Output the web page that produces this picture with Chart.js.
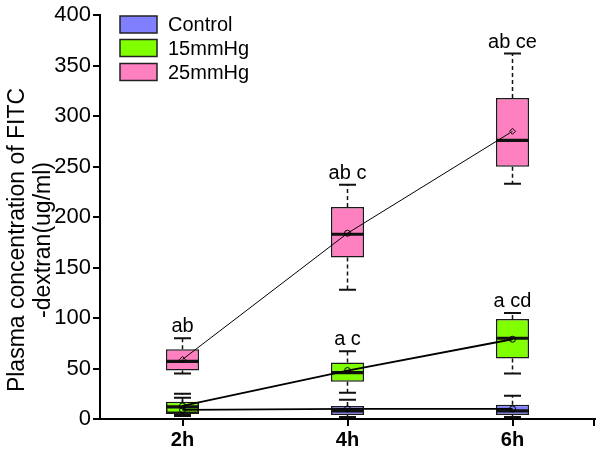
<!DOCTYPE html>
<html><head><meta charset="utf-8">
<script src="https://cdn.jsdelivr.net/npm/chart.js@4.4.0/dist/chart.umd.min.js"></script>
<style>html,body{margin:0;padding:0;background:#fff}#wrap{width:600px;height:451px}</style>
</head><body><div id="wrap"><canvas id="c" width="600" height="451"></canvas></div>
<script>
const categories = ['2h', '4h', '6h'];
const seriesNames = ['Control', '15mmHg', '25mmHg'];
const yTicks = [0, 50, 100, 150, 200, 250, 300, 350, 400];

const controlMin = [3, 2, 2];
const controlQ1 = [5, 4, 4];
const controlMedian = [8, 8, 8];
const controlQ3 = [15, 13, 14];
const controlMax = [21, 19, 23];
const controlMean = [9, 10, 10];

const mmHg15Min = [4, 26, 45];
const mmHg15Q1 = [6, 37, 60];
const mmHg15Median = [12, 46, 80];
const mmHg15Q3 = [17, 56, 99];
const mmHg15Max = [25, 67, 105];
const mmHg15Mean = [13, 48, 79];

const mmHg25Min = [45, 128, 233];
const mmHg25Q1 = [48, 160, 250];
const mmHg25Median = [57, 183, 276];
const mmHg25Q3 = [69, 210, 318];
const mmHg25Max = [80, 232, 362];
const mmHg25Mean = [59, 184, 285];

const controlSig = ['', '', ''];
const mmHg15Sig = ['', 'a c', 'a cd'];
const mmHg25Sig = ['ab', 'ab c', 'ab ce'];

const FONT = "'Liberation Sans', Arial, Helvetica, sans-serif";
const fills = ['#8080ff', '#80ff00', '#ff80c0'];

const stats = [
  {min: controlMin, q1: controlQ1, med: controlMedian, q3: controlQ3, max: controlMax, sig: controlSig},
  {min: mmHg15Min, q1: mmHg15Q1, med: mmHg15Median, q3: mmHg15Q3, max: mmHg15Max, sig: mmHg15Sig},
  {min: mmHg25Min, q1: mmHg25Q1, med: mmHg25Median, q3: mmHg25Q3, max: mmHg25Max, sig: mmHg25Sig}
];
const means = [controlMean, mmHg15Mean, mmHg25Mean];

function boxData(s) { return s.q1.map((q, i) => [q, s.q3[i]]); }

const datasets = [];
stats.forEach((s, k) => {
  datasets.push({
    type: 'bar', label: seriesNames[k], data: boxData(s), seriesIndex: k,
    backgroundColor: fills[k], borderColor: '#1a1a1a', borderWidth: 1.5,
    borderSkipped: false, grouped: false, barPercentage: 0.2, categoryPercentage: 1.0,
    order: 12 - k
  });
});
const lineWidths = [1.6, 1.8, 1];
const pStyles = [['circle','circle','circle'], ['circle','circle','circle'], ['rectRot','circle','rectRot']];
means.forEach((m, k) => {
  datasets.push({
    type: 'line', label: seriesNames[k] + ' mean', data: m,
    borderColor: '#000', borderWidth: lineWidths[k], fill: false, tension: 0,
    pointRadius: 3, pointStyle: pStyles[k], pointBackgroundColor: 'rgba(0,0,0,0)',
    pointBorderColor: '#000', pointBorderWidth: 1, order: 3 - k
  });
});

const boxPlugin = {
  id: 'boxParts',
  afterDatasetDraw(chart, args) {
    const ds = chart.data.datasets[args.index];
    if (ds.type !== 'bar') return;
    const s = stats[ds.seriesIndex];
    const ctx = chart.ctx, y = chart.scales.y;
    const meta = chart.getDatasetMeta(args.index);
    ctx.save();
    meta.data.forEach((el, i) => {
      const x = el.x, w = el.width;
      const yMax = y.getPixelForValue(s.max[i]), yQ3 = y.getPixelForValue(s.q3[i]);
      const yQ1 = y.getPixelForValue(s.q1[i]), yMin = y.getPixelForValue(s.min[i]);
      const yMed = y.getPixelForValue(s.med[i]);
      ctx.strokeStyle = '#111';
      ctx.lineWidth = 1.5;
      ctx.setLineDash([4, 3]);
      ctx.beginPath();
      ctx.moveTo(x, yQ3); ctx.lineTo(x, yMax);
      ctx.moveTo(x, yQ1); ctx.lineTo(x, yMin);
      ctx.stroke();
      ctx.setLineDash([]);
      ctx.lineWidth = 2;
      ctx.beginPath();
      ctx.moveTo(x - 8.5, yMax); ctx.lineTo(x + 8.5, yMax);
      ctx.moveTo(x - 8.5, yMin); ctx.lineTo(x + 8.5, yMin);
      ctx.stroke();
      ctx.lineWidth = 3.2;
      ctx.beginPath();
      ctx.moveTo(x - w / 2, yMed); ctx.lineTo(x + w / 2, yMed);
      ctx.stroke();
      if (s.sig[i]) {
        ctx.fillStyle = '#000';
        ctx.font = '20px ' + FONT;
        ctx.textAlign = 'center';
        ctx.textBaseline = 'alphabetic';
        ctx.fillText(s.sig[i], x, yMax - 6);
      }
    });
    ctx.restore();
  },
  afterDraw(chart) {
    const ctx = chart.ctx, a = chart.chartArea;
    ctx.save();
    ctx.strokeStyle = '#000'; ctx.lineWidth = 2;
    ctx.beginPath(); ctx.moveTo(a.right - 1, a.bottom); ctx.lineTo(a.right - 1, a.bottom + 7); ctx.stroke();
    ctx.font = '20px ' + FONT;
    ctx.textBaseline = 'middle'; ctx.textAlign = 'left';
    const rows = [24.5, 48, 72];
    seriesNames.forEach((n, k) => {
      ctx.fillStyle = fills[k];
      ctx.fillRect(120, rows[k] - 8.5, 37, 17);
      ctx.strokeStyle = '#222'; ctx.lineWidth = 1.5;
      ctx.strokeRect(120, rows[k] - 8.5, 37, 17);
      ctx.fillStyle = '#000';
      ctx.fillText(n, 168, rows[k] + 1);
    });
    ctx.font = '23px ' + FONT;
    ctx.textAlign = 'center'; ctx.textBaseline = 'middle';
    ctx.save(); ctx.translate(18, 240); ctx.rotate(-Math.PI / 2);
    ctx.fillText('Plasma concentration of FITC', 0, 0); ctx.restore();
    ctx.save(); ctx.translate(44, 240); ctx.rotate(-Math.PI / 2);
    ctx.fillText('-dextran(ug/ml)', 0, 0); ctx.restore();
    ctx.restore();
  }
};

new Chart(document.getElementById('c'), {
  data: { labels: categories, datasets },
  options: {
    responsive: false, devicePixelRatio: 1, animation: false,
    layout: { padding: { top: 11, right: 3, left: 0, bottom: 0 } },
    plugins: { legend: { display: false }, tooltip: { enabled: false } },
    scales: {
      x: {
        type: 'category', offset: true,
        grid: { display: true, drawOnChartArea: false, offset: false, tickLength: 7, color: '#000', lineWidth: 2 },
        border: { color: '#000', width: 2 },
        ticks: { color: '#000', font: { family: FONT, size: 20, weight: 'bold' }, padding: 2 },
        afterFit(s) { s.height = 32; }
      },
      y: {
        min: 0, max: 400,
        afterBuildTicks(s) { s.ticks = yTicks.map(v => ({ value: v })); },
        grid: { display: true, drawOnChartArea: false, tickLength: 7, color: '#000', lineWidth: 2 },
        border: { color: '#000', width: 2 },
        ticks: { color: '#000', font: { family: FONT, size: 22 }, padding: 2 },
        afterFit(s) { s.width = 100; }
      }
    }
  },
  plugins: [boxPlugin]
});
</script></body></html>
